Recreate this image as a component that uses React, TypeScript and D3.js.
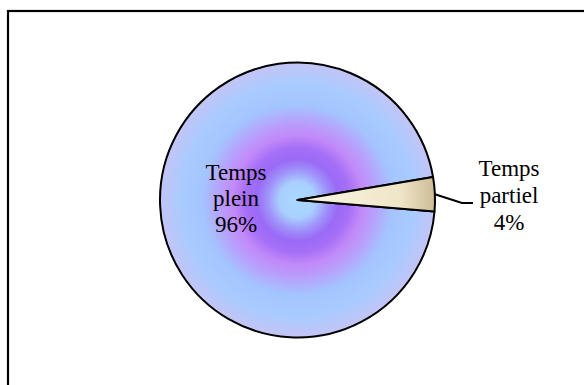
import * as d3 from "d3";
import { useRef, useEffect } from "react";

// Data
const categories = ["Temps plein", "Temps partiel"];
const labelLines = [["Temps", "plein"], ["Temps", "partiel"]];
const values = [96, 4];

export default function App() {
  const chartRef = useRef<SVGSVGElement>(null);
  const width = 584;
  const height = 385;

  useEffect(() => {
    const svg = d3.select(chartRef.current);
    svg.selectAll("*").remove();

    const cx = 297.5;
    const cy = 200;
    const r = 137.5;

    const data = categories.map((c, i) => ({ label: c, lines: labelLines[i], value: values[i] }));

    // frame
    svg
      .append("rect")
      .attr("x", 8)
      .attr("y", 11)
      .attr("width", 620)
      .attr("height", 420)
      .attr("fill", "#fff")
      .attr("stroke", "#000")
      .attr("stroke-width", 2.2);

    const defs = svg.append("defs");

    // gradients live in the pie group's coords (centre at 0,0)
    const rad1 = defs
      .append("radialGradient")
      .attr("id", "grad-plein")
      .attr("gradientUnits", "userSpaceOnUse")
      .attr("cx", 0)
      .attr("cy", 0)
      .attr("r", r);
    [
      [0, "#aad8ff"],
      [0.13, "#a8d0ff"],
      [0.22, "#a092fa"],
      [0.3, "#9a6af6"],
      [0.38, "#a66ff7"],
      [0.47, "#c289f8"],
      [0.57, "#b7a1fc"],
      [0.69, "#a4c4ff"],
      [0.84, "#a8cbff"],
      [1, "#c4c4f6"],
    ].forEach(([o, c]) => rad1.append("stop").attr("offset", o as number).attr("stop-color", c as string));

    const rad2 = defs
      .append("radialGradient")
      .attr("id", "grad-partiel")
      .attr("gradientUnits", "userSpaceOnUse")
      .attr("cx", 0)
      .attr("cy", 0)
      .attr("r", r);
    [
      [0, "#fbf6e6"],
      [0.75, "#efe5c8"],
      [1, "#cdbd96"],
    ].forEach(([o, c]) => rad2.append("stop").attr("offset", o as number).attr("stop-color", c as string));

    const start = (94.8 * Math.PI) / 180;
    const pie = d3
      .pie<any>()
      .value((d) => d.value)
      .sort(null)
      .startAngle(start)
      .endAngle(start + 2 * Math.PI);

    const arc = d3.arc<any>().innerRadius(0).outerRadius(r);
    const arcs = pie(data);

    const g = svg.append("g").attr("transform", `translate(${cx},${cy})`);

    g.selectAll("path")
      .data(arcs)
      .join("path")
      .attr("d", arc)
      .attr("fill", (d, i) => (i === 0 ? "url(#grad-plein)" : "url(#grad-partiel)"))
      .attr("stroke", "#000")
      .attr("stroke-width", 2)
      .attr("stroke-linejoin", "round");

    const font = "'Liberation Serif', 'Times New Roman', serif";

    // inside label for big slice
    const inner = svg
      .append("text")
      .attr("font-family", font)
      .attr("font-size", 23)
      .attr("text-anchor", "middle")
      .attr("fill", "#000");
    [...data[0].lines, `${data[0].value}%`].forEach((t, k) => {
      inner.append("tspan").attr("x", 236).attr("y", 180 + k * 26).text(t);
    });

    // outside label for small slice with leader line
    const a = arcs[1];
    const mid = (a.startAngle + a.endAngle) / 2;
    const p0: [number, number] = [cx + r * Math.sin(mid), cy - r * Math.cos(mid)];
    svg
      .append("polyline")
      .attr("points", `${p0[0]},${p0[1]} 462,203 473,203`)
      .attr("fill", "none")
      .attr("stroke", "#000")
      .attr("stroke-width", 2);

    const outer = svg
      .append("text")
      .attr("font-family", font)
      .attr("font-size", 23)
      .attr("text-anchor", "middle")
      .attr("fill", "#000");
    [...data[1].lines, `${data[1].value}%`].forEach((t, k) => {
      outer.append("tspan").attr("x", 509).attr("y", 176 + k * 27).text(t);
    });
  }, []);

  return (
    <svg
      ref={chartRef}
      width={width}
      height={height}
      style={{ position: "absolute", left: 0, top: 0 }}
    />
  );
}
